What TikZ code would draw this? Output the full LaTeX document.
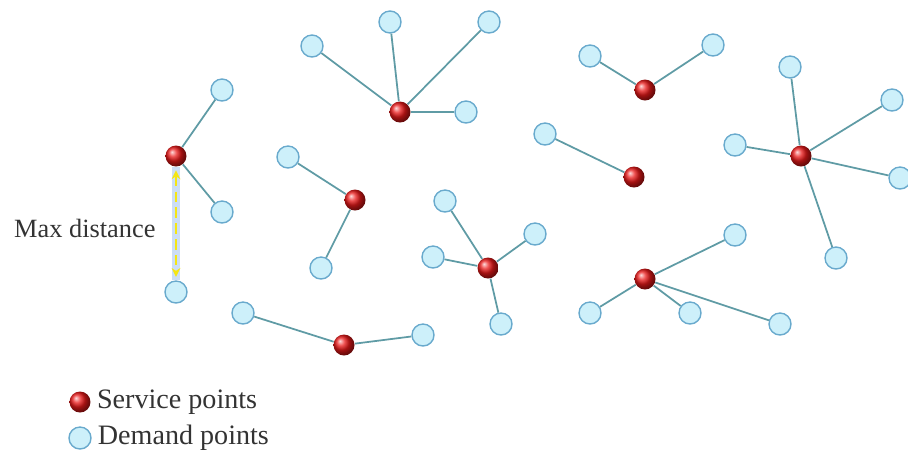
\documentclass[tikz,border=0pt]{standalone}
\usepackage{fontspec}
\setmainfont{Liberation Serif}
\usetikzlibrary{arrows.meta}
\definecolor{linkcol}{RGB}{95,155,165}
\definecolor{demfill}{RGB}{205,240,250}
\definecolor{demdraw}{RGB}{105,170,205}
\definecolor{servcol}{RGB}{235,25,25}
\definecolor{glowcol}{RGB}{170,200,240}
\definecolor{arrcol}{RGB}{245,230,20}
\tikzset{
  service/.style={circle, shading=ball, ball color=servcol, minimum size=0.42cm, inner sep=0pt},
  demand/.style={circle, draw=demdraw, line width=0.8pt, fill=demfill, minimum size=0.44cm, inner sep=0pt},
  label/.style={font=\fontsize{15}{17}\selectfont, text=black!80},
  legtext/.style={font=\fontsize{16}{18}\selectfont, text=black!80}
}
\begin{document}
\begin{tikzpicture}[x=0.02cm,y=-0.02cm]
        \useasboundingbox (0,0) rectangle (908,458);

        \begin{scope}[every node/.style={service}]
          \node (s1) at (176,156) {};
          \node (s2) at (400,112) {};
          \node (s3) at (355,200) {};
          \node (s4) at (645,90)  {};
          \node (s5) at (634,177) {};
          \node (s6) at (801,156) {};
          \node (s7) at (488,268) {};
          \node (s8) at (645,279) {};
          \node (s9) at (344,345) {};
        \end{scope}

        \begin{scope}[every node/.style={demand}]
          \node (d1)  at (222,90)  {};
          \node (d2)  at (222,212) {};
          \node (d3)  at (176,292) {};
          \node (d4)  at (312,46)  {};
          \node (d5)  at (390,22)  {};
          \node (d6)  at (489,22)  {};
          \node (d7)  at (466,112) {};
          \node (d8)  at (288,157) {};
          \node (d9)  at (321,268) {};
          \node (d10) at (590,56)  {};
          \node (d11) at (713,45)  {};
          \node (d12) at (545,134) {};
          \node (d13) at (790,67)  {};
          \node (d14) at (892,100) {};
          \node (d15) at (735,145) {};
          \node (d16) at (900,178) {};
          \node (d17) at (836,258) {};
          \node (d18) at (445,201) {};
          \node (d19) at (535,234) {};
          \node (d20) at (433,257) {};
          \node (d21) at (501,324) {};
          \node (d22) at (735,235) {};
          \node (d23) at (590,313) {};
          \node (d24) at (690,313) {};
          \node (d25) at (780,324) {};
          \node (d26) at (243,313) {};
          \node (d27) at (423,335) {};
        \end{scope}

        \begin{scope}[every edge/.style={draw=linkcol, line width=1pt}]
          \path (s1) edge (d1) (s1) edge (d2);
          \path (s2) edge (d4) (s2) edge (d5) (s2) edge (d6) (s2) edge (d7);
          \path (s3) edge (d8) (s3) edge (d9);
          \path (s4) edge (d10) (s4) edge (d11);
          \path (s5) edge (d12);
          \path (s6) edge (d13) (s6) edge (d14) (s6) edge (d15)
                (s6) edge (d16) (s6) edge (d17);
          \path (s7) edge (d18) (s7) edge (d19) (s7) edge (d20) (s7) edge (d21);
          \path (s8) edge (d22) (s8) edge (d23) (s8) edge (d24) (s8) edge (d25);
          \path (s9) edge (d26) (s9) edge (d27);
        \end{scope}

        % max distance marker
        \draw[glowcol, line width=5pt, opacity=0.6] (s1.south) -- (d3.north);
        \draw[arrcol, line width=1.3pt, dash pattern=on 6pt off 3pt,
              {Stealth[length=5pt,width=5pt]}-{Stealth[length=5pt,width=5pt]}]
              ([yshift=-2pt]s1.south) -- ([yshift=2pt]d3.north);
        \node[label, anchor=west] (maxd) at (8,228) {Max distance};

        % legend
        \node[service] (ls) at (80,402) {};
        \node[demand]  (ld) at (80,438) {};
        \node[legtext, anchor=west] (lst) at (ls.east) {Service points};
        \node[legtext, anchor=west] (ldt) at (ld.east) {Demand points};

      \end{tikzpicture}
\end{document}
